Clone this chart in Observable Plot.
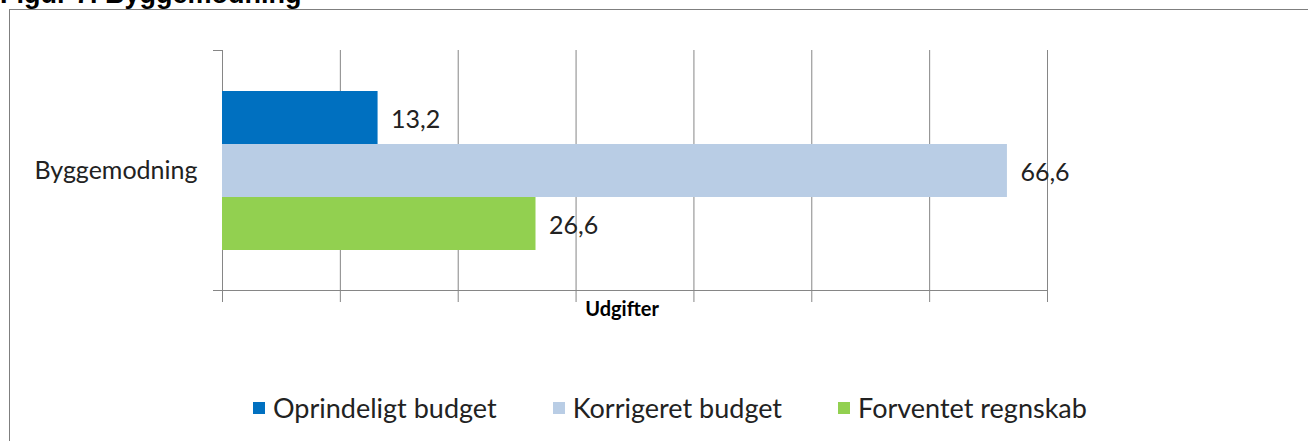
<!DOCTYPE html>
<html><head><meta charset="utf-8">
<script src="https://cdn.jsdelivr.net/npm/d3@7"></script>
<script src="https://cdn.jsdelivr.net/npm/@observablehq/plot@0.6"></script>
<style>
html,body{margin:0;padding:0;background:#fff;}
body{width:1308px;height:441px;position:relative;overflow:hidden;font-family:Lato,"Open Sans",sans-serif;}
#title{position:absolute;left:0;top:-19px;font:bold 27px "Liberation Sans",Arial,sans-serif;line-height:1;white-space:nowrap;color:#000;}
#frame{position:absolute;left:9px;top:9px;width:1400px;height:500px;border:1px solid #7f7f7f;box-sizing:border-box;}
#chart{position:absolute;left:0;top:0;}
#legend{position:absolute;top:392px;left:253px;display:flex;align-items:center;font-size:27px;line-height:32px;color:#222;white-space:nowrap;}
#legend .item{display:flex;align-items:center;margin-right:56px;}
#legend .sw{width:12px;height:12px;margin-right:8px;}
</style>
</head><body>
<div id="title">Figur 7. Byggemodning</div>
<div id="frame"></div>
<div id="chart"></div>
<div id="legend"></div>
<script>
const titleText = "Figur 7. Byggemodning";
const category = ["Byggemodning"];
const series = ["Oprindeligt budget", "Korrigeret budget", "Forventet regnskab"];
const values = [13.2, 66.6, 26.6];
const colors = ["#0070C0", "#B9CDE5", "#92D050"];
const xTicks = [0, 10, 20, 30, 40, 50, 60, 70];
const axisTitle = "Udgifter";

(function () {
const data = series.map((s, i) => ({series: s, value: values[i], category: category[0]}));
const fmt = v => v.toFixed(1).replace(".", ",");
const gridColor = "#868686";
const textColor = "#222";
const fs = 25;
const mTop = 50, mBottom = 151, H = 441;

const plot = Plot.plot({
  width: 1308,
  height: H,
  marginLeft: 222,
  marginRight: 261,
  marginTop: mTop,
  marginBottom: mBottom,
  style: {fontFamily: "Lato, 'Open Sans', sans-serif", background: "transparent"},
  x: {domain: [0, 70], axis: null},
  y: {domain: series, paddingInner: 0, paddingOuter: 0.75, axis: null},
  color: {domain: series, range: colors},
  marks: [
    Plot.ruleX(xTicks, {stroke: gridColor, strokeWidth: 1, strokeOpacity: 1}),
    Plot.axisX({ticks: xTicks, tickSize: 12, tickFormat: () => "", stroke: gridColor, strokeOpacity: 1, label: null}),
    Plot.barX(data, {x: "value", y: "series", fill: "series"}),
    Plot.text(data, {x: "value", y: "series", text: d => fmt(d.value), dx: 13, dy: 2, textAnchor: "start", fontSize: fs, fill: textColor}),
    Plot.text(category, {frameAnchor: "left", y: () => series[1], text: d => d, dx: -25, textAnchor: "end", fontSize: fs, fill: textColor}),
    Plot.text([axisTitle], {frameAnchor: "bottom", text: d => d, dy: 25, dx: -13, fontSize: 20, fontWeight: "bold", fill: "#000"})
  ]
});
document.getElementById("chart").appendChild(plot);

const sx = plot.scale("x");
const x0 = sx.apply(0), x1 = sx.range[1];
const yTop = mTop, yBottom = H - mBottom;
const svg = d3.select(plot);
const g = svg.append("g").attr("stroke", gridColor).attr("stroke-width", 1);
g.append("line").attr("x1", x0 - 9).attr("x2", x1 + 0.5).attr("y1", yBottom + 0.5).attr("y2", yBottom + 0.5);
g.append("line").attr("x1", x0 - 9).attr("x2", x0 + 0.5).attr("y1", yTop + 0.5).attr("y2", yTop + 0.5);

const legend = d3.select("#legend");
series.forEach((s, i) => {
  const it = legend.append("div").attr("class", "item");
  it.append("div").attr("class", "sw").style("background", colors[i]);
  it.append("span").text(s);
});
})();
</script>
</body></html>
